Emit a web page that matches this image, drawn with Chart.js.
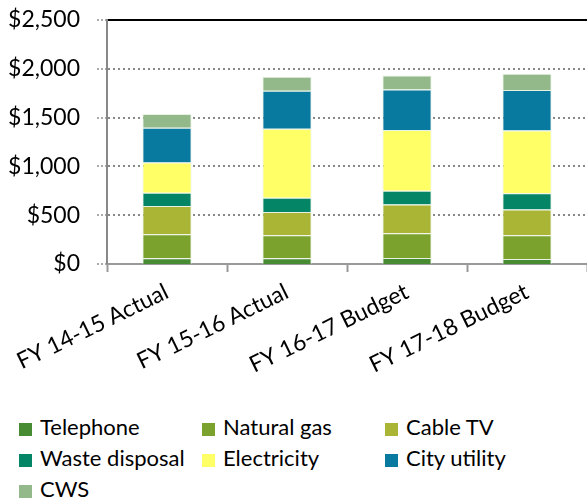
<!DOCTYPE html>
<html>
<head>
<meta charset="utf-8">
<script src="https://cdn.jsdelivr.net/npm/chart.js@4"></script>
<style>
  body { margin: 0; background: #fff; font-family: Lato, "Open Sans", sans-serif; }
  #wrap { position: relative; width: 587px; height: 504px; }
  #chart { position: absolute; left: 0; top: 0; }
  #legend { position: absolute; left: 0; top: 412px; width: 587px; }
  .item { position: absolute; font-size: 22px; color: #000; white-space: nowrap; line-height: 30px; }
  .item span.box { display: inline-block; width: 13px; height: 13px; margin-right: 8px; vertical-align: -1px; }
</style>
</head>
<body>
<div id="wrap">
  <canvas id="chart" width="587" height="404"></canvas>
  <div id="legend"></div>
</div>
<script>
const categories = ['FY 14-15 Actual', 'FY 15-16 Actual', 'FY 16-17 Budget', 'FY 17-18 Budget'];

const telephone     = [60, 58, 62, 51];
const naturalGas    = [245, 236, 253, 244];
const cableTV       = [288, 240, 295, 263];
const wasteDisposal = [138, 144, 140, 168];
const electricity   = [308, 709, 623, 641];
const cityUtility   = [356, 387, 415, 417];
const cws           = [141, 144, 144, 165];

const seriesNames  = ['Telephone', 'Natural gas', 'Cable TV', 'Waste disposal', 'Electricity', 'City utility', 'CWS'];
const seriesValues = [telephone, naturalGas, cableTV, wasteDisposal, electricity, cityUtility, cws];
const seriesColors = ['#478b33', '#7ba22c', '#abb535', '#038566', '#ffff66', '#08799f', '#93b98a'];

const yTicks = [0, 500, 1000, 1500, 2000, 2500];

const datasets = seriesNames.map((name, i) => ({
  label: name,
  data: seriesValues[i],
  backgroundColor: seriesColors[i],
  borderColor: 'rgba(230,240,225,0.9)',
  borderWidth: 1,
  categoryPercentage: 1,
  barPercentage: 0.41
}));

const chart = new Chart(document.getElementById('chart'), {
  type: 'bar',
  data: { labels: categories, datasets: datasets },
  options: {
    responsive: false,
    animation: false,
    layout: { padding: { top: 20, right: 0, left: 0, bottom: 0 } },
    plugins: {
      legend: { display: false },
      tooltip: { enabled: false }
    },
    scales: {
      x: {
        stacked: true,
        grid: {
          offset: true,
          drawOnChartArea: false,
          color: 'transparent',
          tickLength: 8,
          tickColor: '#999',
          tickWidth: 2
        },
        border: { color: '#999', width: 2 },
        ticks: {
          color: '#000',
          font: { family: 'Lato', size: 23 },
          minRotation: 26,
          maxRotation: 26,
          padding: 6
        },
        afterFit: scale => {
          scale.height = 404 - 264;
          scale.paddingLeft = 0;
          scale.paddingRight = 0;
        }
      },
      y: {
        stacked: true,
        min: 0,
        max: 2500,
        afterBuildTicks: scale => { scale.ticks = yTicks.map(v => ({ value: v })); },
        grid: {
          color: ctx => ctx.tick && ctx.tick.value === 2500 ? '#000' : '#888',
          lineWidth: ctx => ctx.tick && ctx.tick.value === 0 ? 0 : 2,
          tickLength: 10,
          tickColor: '#aaa',
          tickWidth: 2,
          tickBorderDash: [2, 2]
        },
        border: {
          color: '#888',
          width: 2,
          dash: ctx => ctx.tick && ctx.tick.value === 2500 ? [] : [2, 3]
        },
        ticks: {
          color: '#000',
          font: { family: 'Lato', size: 23 },
          padding: 17,
          callback: v => '$' + v.toLocaleString('en-US')
        },
        afterFit: scale => {
          scale.width = 107;
          scale.paddingTop = 0;
          scale.paddingBottom = 0;
        }
      }
    }
  }
});

// legend in three columns, built from the chart datasets
const legendCols = [19, 202, 385];
const legend = document.getElementById('legend');
chart.data.datasets.forEach((ds, i) => {
  const el = document.createElement('div');
  el.className = 'item';
  el.style.left = legendCols[i % 3] + 'px';
  el.style.top = Math.floor(i / 3) * 31 + 'px';
  el.innerHTML = '<span class="box" style="background:' + ds.backgroundColor + '"></span>' + ds.label;
  legend.appendChild(el);
});
</script>
</body>
</html>
